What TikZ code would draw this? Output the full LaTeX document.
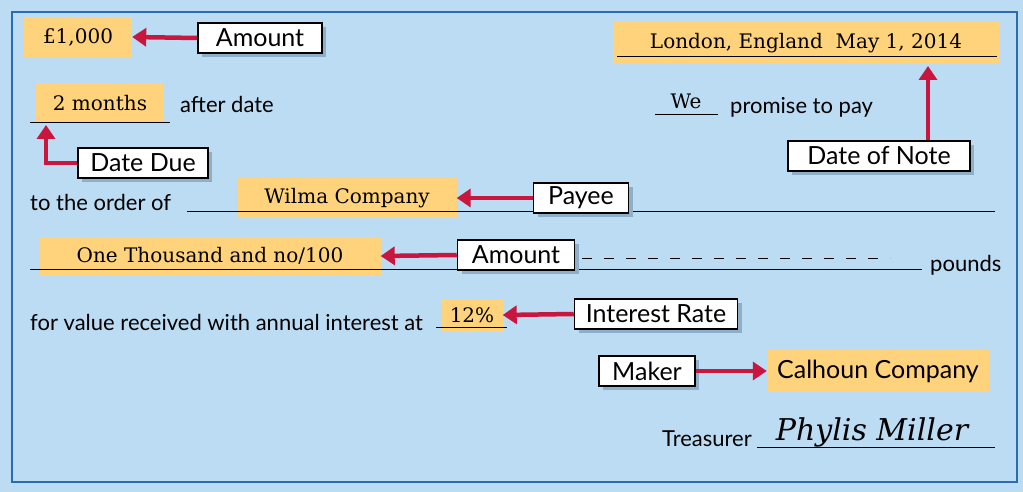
\documentclass[tikz,border=0pt]{standalone}
\usepackage{fontspec}
\setmainfont{DejaVu Serif}
\setsansfont{Lato}
\usetikzlibrary{arrows.meta}
\definecolor{bg}{HTML}{BCDCF3}
\definecolor{frame}{HTML}{2B6CAE}
\definecolor{hl}{HTML}{FFD27C}
\definecolor{arr}{HTML}{C8163F}
\definecolor{shad}{HTML}{8FAFC8}
\begin{document}
\begin{tikzpicture}[x=1pt,y=-1pt,
  lbl/.style={draw=black,line width=1.5pt,fill=white,font=\sffamily\fontsize{25}{25}\selectfont,inner sep=0pt,minimum height=30pt},
  fld/.style={fill=hl,inner sep=0pt,font=\fontsize{20}{20}\selectfont},
  txt/.style={font=\sffamily\fontsize{22}{22}\selectfont,inner sep=0pt,anchor=base west},
  rarr/.style={arr,line width=4.5pt,-{Triangle[length=14pt,width=18pt]}},
  ul/.style={line width=1pt}]
\useasboundingbox (0,0) rectangle (1023,492);
\fill[bg] (0,0) rectangle (1023,492);
\draw[frame,line width=1.5pt] (12,12) rectangle (1017,482);
% underlines
\draw[ul] (655,115) -- (718,115);
\draw[ul] (187,211) -- (995,211);
\draw[ul] (30,269) -- (922,269);
\draw[ul] (436,327) -- (507,327);
\draw[ul] (757,447) -- (995,447);
% fields
\node[fld,minimum width=108pt,minimum height=40pt] (f1) at (78,37) {£1,000};
\node[fld,minimum width=128pt,minimum height=39pt] (f2) at (100,103) {2 months};
\draw[ul] (30,123) -- (170,123);
\node[fld,minimum width=387pt,minimum height=43pt] (f3) at (806,43) {London, England\ \ May 1, 2014};
\draw[ul] (617,57) -- (997,57);
\node[fld,minimum width=219pt,minimum height=39pt] (f4) at (347,198) {Wilma Company};
\draw[ul] (238,211) -- (457,211);
\node[fld,minimum width=341pt,minimum height=39pt] (f5) at (210,256) {One Thousand and no/100};
\draw[ul] (40,269) -- (381,269);
\node[fld,minimum width=61pt,minimum height=32pt] (f6) at (472,315) {12\%};
\draw[ul] (442,327) -- (503,327);
\node[fld,font=\sffamily\fontsize{25}{25}\selectfont,minimum width=222pt,minimum height=42pt] (f7) at (878,371) {Calhoun Company};
\node[font=\fontsize{20}{20}\selectfont,inner sep=0pt] (we) at (686,101) {We};
% plain text
\node[txt] (t1) at (180,113) {after date};
\node[txt] (t2) at (730,114) {promise to pay};
\node[txt] (t3) at (30,211) {to the order of};
\node[txt] (t4) at (930,271) {pounds};
\node[txt] (t5) at (30,330) {for value received with annual interest at};
\node[txt,anchor=base east] (t6) at (752,446) {Treasurer};
\node[font=\itshape\fontsize{30}{30}\selectfont,inner sep=0pt] (sig) at (872,432) {Phylis Miller};
\draw[dashed,dash pattern=on 10pt off 12pt,line width=1pt] (582,258) -- (890,258);
% labels with shadows
\foreach \n/\x/\y/\w/\t in {a1/260/38/124/Amount,a2/143/163/130/Date Due,a3/879/156/182/Date of Note,a4/581/198/95/Payee,a5/516/255/117/Amount,a6/656/314/163/Interest Rate,a7/647/371/96/Maker}{
  \fill[shad] (\x-\w/2+4,\y-15+4) rectangle (\x+\w/2+4,\y+15+4);
  \node[lbl,minimum width=\w pt] (\n) at (\x,\y) {\t};
}
% arrows
\draw[rarr] (a1.west) -- (f1.east);
\draw[rarr] (a2.west) -| (46,125);
\draw[rarr] (a3.north -| 928,0) -- (928,66);
\draw[rarr] (a4.west) -- (f4.east);
\draw[rarr] (a5.west) -- (f5.east);
\draw[rarr] (a6.west) -- (f6.east);
\draw[rarr] (a7.east) -- (f7.west);
\end{tikzpicture}
\end{document}
